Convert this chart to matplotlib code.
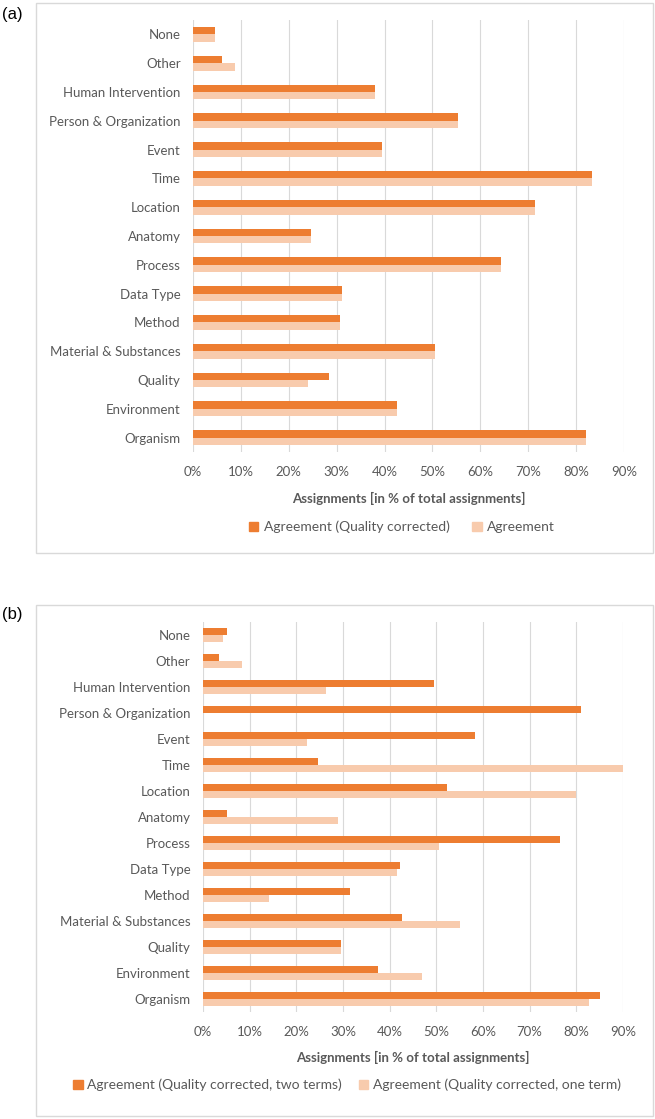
import matplotlib.pyplot as plt
from matplotlib.patches import Patch, Rectangle

W, H = 655, 1119

categories = ['None', 'Other', 'Human Intervention', 'Person & Organization', 'Event',
              'Time', 'Location', 'Anatomy', 'Process', 'Data Type', 'Method',
              'Material & Substances', 'Quality', 'Environment', 'Organism']

# panel (a)
a_quality_corrected = [4.5, 6.1, 38.1, 55.4, 39.4, 83.4, 71.5, 24.6, 64.4, 31.2, 30.7, 50.5, 28.3, 42.7, 82.0]
a_agreement = [4.5, 8.7, 38.1, 55.4, 39.4, 83.4, 71.5, 24.6, 64.4, 31.2, 30.7, 50.5, 24.1, 42.7, 82.0]

# panel (b)
b_two_terms = [5.1, 3.4, 49.5, 81.0, 58.3, 24.7, 52.3, 5.1, 76.5, 42.2, 31.6, 42.6, 29.5, 37.4, 85.0]
b_one_term = [4.3, 8.3, 26.4, 0.0, 22.2, 90.2, 80.0, 28.9, 50.5, 41.6, 14.1, 55.1, 29.5, 47.0, 82.8]

x_ticks = [0, 10, 20, 30, 40, 50, 60, 70, 80, 90]

DARK = '#ED7D31'
LIGHT = '#F8CBAD'
GRID = '#D9D9D9'
TXT = '#595959'

plt.rcParams['font.family'] = ['Lato', 'DejaVu Sans']

fig = plt.figure(figsize=(W / 100, H / 100), dpi=100)


def px_axes(left, top, right, bottom):
    return fig.add_axes([left / W, 1 - bottom / H, (right - left) / W, (bottom - top) / H])


def draw_panel(ax, dark_vals, light_vals):
    ys = list(range(len(categories)))
    h = 0.26
    ax.barh([y - h / 2 for y in ys], dark_vals, height=h, color=DARK, zorder=3)
    ax.barh([y + h / 2 for y in ys], light_vals, height=h, color=LIGHT, zorder=3)
    ax.set_ylim(len(categories) - 0.5, -0.5)
    ax.set_xlim(0, 90)
    ax.set_yticks(ys)
    ax.set_yticklabels(categories)
    ax.set_xticks(x_ticks)
    ax.set_xticklabels([f'{t}%' for t in x_ticks])
    ax.grid(axis='x', color=GRID, linewidth=0.8, zorder=0)
    ax.set_axisbelow(True)
    for s in ax.spines.values():
        s.set_visible(False)
    ax.tick_params(axis='both', length=0, labelsize=9.5, labelcolor=TXT)
    ax.tick_params(axis='y', pad=9)
    ax.tick_params(axis='x', pad=10)


# panel boxes
fig.patches.append(Rectangle((36 / W, 1 - 553 / H), (653 - 36) / W, (553 - 3) / H,
                             transform=fig.transFigure, fill=False, edgecolor=GRID, linewidth=1))
fig.patches.append(Rectangle((36 / W, 1 - 1116 / H), (653 - 36) / W, (1116 - 605) / H,
                             transform=fig.transFigure, fill=False, edgecolor=GRID, linewidth=1))

ax1 = px_axes(193, 20, 624, 452)
draw_panel(ax1, a_quality_corrected, a_agreement)
ax2 = px_axes(203, 622, 623, 1012)
draw_panel(ax2, b_two_terms, b_one_term)

fig.text(2 / W, 1 - 14 / H, '(a)', fontsize=12, family='Liberation Sans', va='center', ha='left')
fig.text(2 / W, 1 - 614 / H, '(b)', fontsize=12, family='Liberation Sans', va='center', ha='left')

fig.text(409 / W, 1 - 498 / H, 'Assignments [in % of total assignments]', fontsize=9.5,
         fontweight='bold', color=TXT, ha='center', va='center')
fig.text(413 / W, 1 - 1057 / H, 'Assignments [in % of total assignments]', fontsize=9.5,
         fontweight='bold', color=TXT, ha='center', va='center')

leg_a = fig.legend(handles=[Patch(color=DARK, label='Agreement (Quality corrected)'),
                            Patch(color=LIGHT, label='Agreement')],
                   loc='center', bbox_to_anchor=(402 / W, 1 - 527 / H), ncol=2, frameon=False,
                   fontsize=10, handlelength=0.7, handleheight=0.7, handletextpad=0.4,
                   columnspacing=1.6)
for t in leg_a.get_texts():
    t.set_color(TXT)

leg_b = fig.legend(handles=[Patch(color=DARK, label='Agreement (Quality corrected, two terms)'),
                            Patch(color=LIGHT, label='Agreement (Quality corrected, one term)')],
                   loc='center', bbox_to_anchor=(347 / W, 1 - 1085 / H), ncol=2, frameon=False,
                   fontsize=10, handlelength=0.7, handleheight=0.7, handletextpad=0.3,
                   columnspacing=1.2)
for t in leg_b.get_texts():
    t.set_color(TXT)

fig.savefig('out.png', dpi=100)
